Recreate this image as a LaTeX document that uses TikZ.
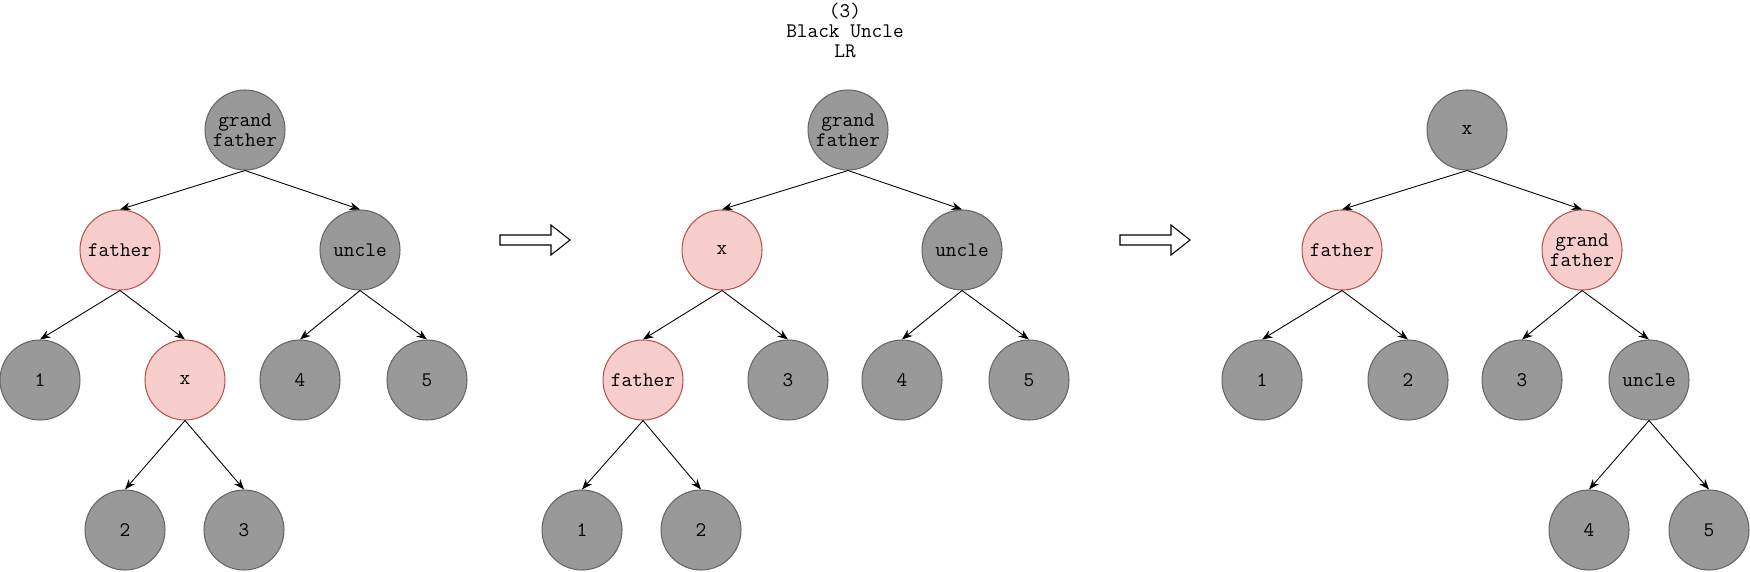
\documentclass[tikz,border=0pt]{standalone}
\usetikzlibrary{arrows.meta}
\definecolor{blackfill}{HTML}{999999}
\definecolor{blackline}{HTML}{666666}
\definecolor{redfill}{HTML}{F8CECC}
\definecolor{redline}{HTML}{B85450}
\tikzset{
  rbnode/.style={circle, minimum size=1.6cm, inner sep=0pt, align=center, line width=0.6pt,
    font=\ttfamily\fontsize{11.8}{11.4}\selectfont},
  blacknode/.style={rbnode, fill=blackfill, draw=blackline},
  rednode/.style={rbnode, fill=redfill, draw=redline},
  link/.style={-{Stealth[length=6pt,width=4.5pt]}, line width=0.5pt},
  bigarrow/.style={draw, line width=0.6pt, fill=white}
}
\begin{document}
\begin{tikzpicture}[x=0.02cm, y=-0.02cm]
  \useasboundingbox (0,0) rectangle (1750,571);
  % Title
  \node[align=center, font=\ttfamily\fontsize{11.8}{11.4}\selectfont, inner sep=0pt] (title) at (845,30) {(3)\\Black Uncle\\LR};

  % Tree before rotation
  \node[blacknode] (agf) at (245,130) {grand\\father};
  \node[rednode] (afa) at (120,250) {father};
  \node[blacknode] (aun) at (360,250) {uncle};
  \node[blacknode] (a1) at (40,380) {1};
  \node[rednode] (ax) at (185,380) {x};
  \node[blacknode] (a4) at (300,380) {4};
  \node[blacknode] (a5) at (427,380) {5};
  \node[blacknode] (a2) at (125,530) {2};
  \node[blacknode] (a3) at (244,530) {3};
  \draw[link] (agf.south) -- (afa.north);
  \draw[link] (agf.south) -- (aun.north);
  \draw[link] (afa.south) -- (a1.north);
  \draw[link] (afa.south) -- (ax.north);
  \draw[link] (aun.south) -- (a4.north);
  \draw[link] (aun.south) -- (a5.north);
  \draw[link] (ax.south) -- (a2.north);
  \draw[link] (ax.south) -- (a3.north);

  % First rotation arrow
  \draw[bigarrow] (500,235) -- (551,235) -- (551,225) -- (570,240) -- (551,255) -- (551,245) -- (500,245) -- cycle;

  % Tree after first rotation
  \node[blacknode] (bgf) at (848,130) {grand\\father};
  \node[rednode] (bx) at (722,250) {x};
  \node[blacknode] (bun) at (962,250) {uncle};
  \node[rednode] (bfa) at (643,380) {father};
  \node[blacknode] (b3) at (788,380) {3};
  \node[blacknode] (b4) at (902,380) {4};
  \node[blacknode] (b5) at (1029,380) {5};
  \node[blacknode] (b1) at (582,530) {1};
  \node[blacknode] (b2) at (701,530) {2};
  \draw[link] (bgf.south) -- (bx.north);
  \draw[link] (bgf.south) -- (bun.north);
  \draw[link] (bx.south) -- (bfa.north);
  \draw[link] (bx.south) -- (b3.north);
  \draw[link] (bun.south) -- (b4.north);
  \draw[link] (bun.south) -- (b5.north);
  \draw[link] (bfa.south) -- (b1.north);
  \draw[link] (bfa.south) -- (b2.north);

  % Second rotation arrow
  \draw[bigarrow] (1120,235) -- (1171,235) -- (1171,225) -- (1190,240) -- (1171,255) -- (1171,245) -- (1120,245) -- cycle;

  % Tree after second rotation
  \node[blacknode] (cx) at (1467,130) {x};
  \node[rednode] (cfa) at (1342,250) {father};
  \node[rednode] (cgf) at (1582,250) {grand\\father};
  \node[blacknode] (c1) at (1262,380) {1};
  \node[blacknode] (c2) at (1408,380) {2};
  \node[blacknode] (c3) at (1522,380) {3};
  \node[blacknode] (cun) at (1649,380) {uncle};
  \node[blacknode] (c4) at (1589,530) {4};
  \node[blacknode] (c5) at (1709,530) {5};
  \draw[link] (cx.south) -- (cfa.north);
  \draw[link] (cx.south) -- (cgf.north);
  \draw[link] (cfa.south) -- (c1.north);
  \draw[link] (cfa.south) -- (c2.north);
  \draw[link] (cgf.south) -- (c3.north);
  \draw[link] (cgf.south) -- (cun.north);
  \draw[link] (cun.south) -- (c4.north);
  \draw[link] (cun.south) -- (c5.north);
\end{tikzpicture}
\end{document}
